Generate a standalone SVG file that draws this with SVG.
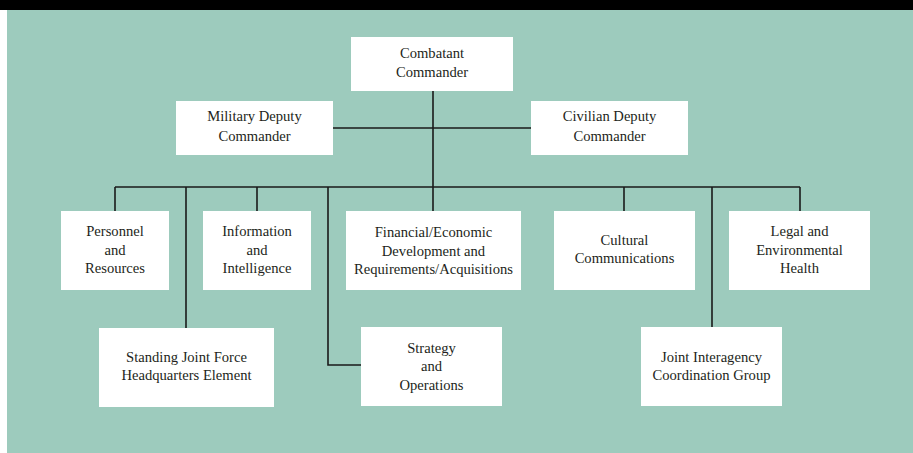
<svg xmlns="http://www.w3.org/2000/svg" width="913" height="453" viewBox="0 0 913 453">
  <style>
    .box { fill: #ffffff; }
    .lbl { font-family: "Liberation Serif", "DejaVu Serif", serif; font-size: 14.6px; fill: #231f20; text-anchor: middle; }
    .wire { fill: none; stroke: #1a1a1a; stroke-width: 1.6; }
  </style>

  <!-- page frame -->
  <rect x="0" y="0" width="913" height="453" fill="#ffffff"/>
  <rect x="7" y="0" width="906" height="453" fill="#9dcbbd"/>
  <rect x="0" y="0" width="913" height="10" fill="#000000"/>

  <!-- connectors -->
  <g id="connectors" class="wire">
    <path d="M433 91 V187"/>
    <path d="M333 128 H531"/>
    <path d="M115 187 H800"/>
    <path d="M115 187 V211"/>
    <path d="M257 187 V211"/>
    <path d="M433 187 V211"/>
    <path d="M624 187 V211"/>
    <path d="M800 187 V211"/>
    <path d="M186 187 V328"/>
    <path d="M328 187 V365 H361"/>
    <path d="M712 187 V327"/>
  </g>

  <g id="combatant-commander">
    <rect class="box" x="351" y="37" width="162" height="54"/>
    <text class="lbl" x="432" y="58">Combatant</text>
    <text class="lbl" x="432" y="77">Commander</text>
  </g>

  <g id="military-deputy">
    <rect class="box" x="176" y="101" width="157" height="54"/>
    <text class="lbl" x="254.5" y="121">Military Deputy</text>
    <text class="lbl" x="254.5" y="141">Commander</text>
  </g>

  <g id="civilian-deputy">
    <rect class="box" x="531" y="101" width="157" height="54"/>
    <text class="lbl" x="609.5" y="121">Civilian Deputy</text>
    <text class="lbl" x="609.5" y="141">Commander</text>
  </g>

  <g id="personnel">
    <rect class="box" x="61" y="211" width="108" height="79"/>
    <text class="lbl" x="115" y="236">Personnel</text>
    <text class="lbl" x="115" y="255">and</text>
    <text class="lbl" x="115" y="273">Resources</text>
  </g>

  <g id="information">
    <rect class="box" x="203" y="211" width="108" height="79"/>
    <text class="lbl" x="257" y="236">Information</text>
    <text class="lbl" x="257" y="255">and</text>
    <text class="lbl" x="257" y="273">Intelligence</text>
  </g>

  <g id="financial">
    <rect class="box" x="346" y="211" width="175" height="79"/>
    <text class="lbl" x="433.5" y="237">Financial/Economic</text>
    <text class="lbl" x="433.5" y="256">Development and</text>
    <text class="lbl" x="433.5" y="274">Requirements/Acquisitions</text>
  </g>

  <g id="cultural">
    <rect class="box" x="554" y="211" width="141" height="79"/>
    <text class="lbl" x="624.5" y="245">Cultural</text>
    <text class="lbl" x="624.5" y="263">Communications</text>
  </g>

  <g id="legal">
    <rect class="box" x="729" y="211" width="141" height="79"/>
    <text class="lbl" x="799.5" y="236">Legal and</text>
    <text class="lbl" x="799.5" y="255">Environmental</text>
    <text class="lbl" x="799.5" y="273">Health</text>
  </g>

  <g id="sjfhq">
    <rect class="box" x="99" y="328" width="175" height="79"/>
    <text class="lbl" x="186.5" y="362">Standing Joint Force</text>
    <text class="lbl" x="186.5" y="380">Headquarters Element</text>
  </g>

  <g id="strategy">
    <rect class="box" x="361" y="327" width="141" height="79"/>
    <text class="lbl" x="431.5" y="353">Strategy</text>
    <text class="lbl" x="431.5" y="371">and</text>
    <text class="lbl" x="431.5" y="390">Operations</text>
  </g>

  <g id="jicg">
    <rect class="box" x="641" y="327" width="141" height="79"/>
    <text class="lbl" x="711.5" y="362">Joint Interagency</text>
    <text class="lbl" x="711.5" y="380">Coordination Group</text>
  </g>
</svg>
